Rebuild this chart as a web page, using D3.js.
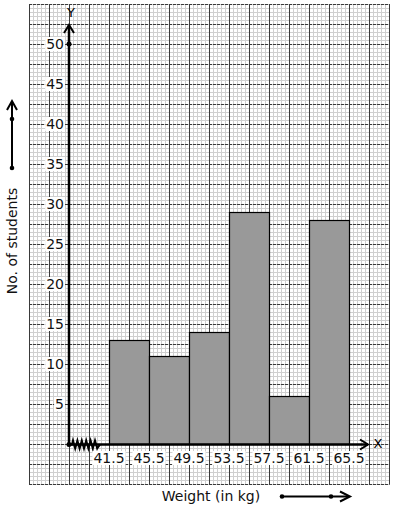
<!DOCTYPE html>
<html><head><meta charset="utf-8">
<script src="https://cdn.jsdelivr.net/npm/d3@7"></script>
<style>body{margin:0;background:#fff}svg{display:block}text{font-family:"DejaVu Sans",sans-serif}</style>
</head><body>
<script>
const classes = ["41.5-45.5","45.5-49.5","49.5-53.5","53.5-57.5","57.5-61.5","61.5-65.5"];
const lowerBounds = [41.5,45.5,49.5,53.5,57.5,61.5];
const upperBounds = [45.5,49.5,53.5,57.5,61.5,65.5];
const students = [13,11,14,29,6,28];
const xTicks = [41.5,45.5,49.5,53.5,57.5,61.5,65.5];
const yTicks = [5,10,15,20,25,30,35,40,45,50];

const W=394,H=510;
const svg=d3.select("body").append("svg").attr("width",W).attr("height",H);

const x=d3.scaleLinear().domain([41.5,65.5]).range([109,349]);
const y=d3.scaleLinear().domain([0,50]).range([444,44]);
const ox=69, oy=444;

// graph paper
const gx0=29,gx1=389,gy0=4,gy1=484;
const grid=svg.append("g");
const minorX=d3.range(gx0,gx1+1,4), minorY=d3.range(gy0,gy1+1,4);
grid.selectAll(".mx").data(minorX).enter().append("line")
 .attr("x1",d=>d+0.5).attr("x2",d=>d+0.5).attr("y1",gy0).attr("y2",gy1)
 .attr("stroke","#cfcfcf").attr("stroke-width",1);
grid.selectAll(".my").data(minorY).enter().append("line")
 .attr("y1",d=>d+0.5).attr("y2",d=>d+0.5).attr("x1",gx0).attr("x2",gx1)
 .attr("stroke","#cfcfcf").attr("stroke-width",1);
grid.selectAll(".MX").data(d3.range(gx0,gx1+1,20)).enter().append("line")
 .attr("x1",d=>d+0.5).attr("x2",d=>d+0.5).attr("y1",gy0).attr("y2",gy1+0.5)
 .attr("stroke","#3a3a3a").attr("stroke-width",1);
grid.selectAll(".MY").data(d3.range(gy0,gy1+1,20)).enter().append("line")
 .attr("y1",d=>d+0.5).attr("y2",d=>d+0.5).attr("x1",gx0).attr("x2",gx1+0.5)
 .attr("stroke","#3a3a3a").attr("stroke-width",1).attr("stroke-dasharray","3,1");

// bars
svg.append("g").selectAll("rect").data(students).enter().append("rect")
 .attr("x",(d,i)=>x(lowerBounds[i])+0.5).attr("y",d=>y(d)+0.5)
 .attr("width",(d,i)=>x(upperBounds[i])-x(lowerBounds[i]))
 .attr("height",d=>y(0)-y(d))
 .attr("fill","#999999").attr("stroke","#000").attr("stroke-width",1.2);

// axes
const ax=svg.append("g").attr("stroke","#000").attr("fill","none");
ax.append("line").attr("x1",ox).attr("x2",ox).attr("y1",oy).attr("y2",25).attr("stroke-width",2.5);
ax.append("path").attr("d",`M${ox-5},${33} L${ox},${25} L${ox+5},${33}`).attr("stroke-width",2);
ax.append("line").attr("x1",ox).attr("x2",368).attr("y1",oy+0.5).attr("y2",oy+0.5).attr("stroke-width",2.5);
ax.append("path").attr("d",`M${360},${oy-4.5} L${368},${oy+0.5} L${360},${oy+5.5}`).attr("stroke-width",2);
// kink
let kp=`M${ox},${oy+0.5} L72,${oy+0.5}`;
const kx=d3.range(73,99,2.2);
kx.forEach((v,i)=>{kp+=` L${v},${oy+0.5+(i%2?4:-4)}`;});
kp+=` L${100},${oy+0.5}`;
ax.append("path").attr("d",kp).attr("stroke-width",2);
svg.append("circle").attr("cx",ox).attr("cy",oy+0.5).attr("r",2.5).attr("fill","#000");
svg.append("circle").attr("cx",ox).attr("cy",y(50)).attr("r",2.5).attr("fill","#000");
svg.append("text").attr("x",ox+2).attr("y",17).attr("text-anchor","middle").attr("font-size",13).text("Y");
svg.append("text").attr("x",378).attr("y",448).attr("text-anchor","middle").attr("font-size",13).text("X");

function labelWithBg(g,tx,ty,anchor,txt){
  const t=g.append("text").attr("x",tx).attr("y",ty).attr("text-anchor",anchor).attr("font-size",14).attr("fill","#111").text(txt);
  const b=t.node().getBBox();
  g.insert("rect","text").attr("x",b.x-1).attr("y",b.y+1).attr("width",b.width+2).attr("height",b.height-2).attr("fill","#fff");
}
const yl=svg.append("g");
yTicks.forEach(v=>labelWithBg(yl.append("g"),64,y(v)+5,"end",v));
const xl=svg.append("g");
xTicks.forEach(v=>labelWithBg(xl.append("g"),x(v),463,"middle",v));

svg.append("text").attr("transform","translate(17,241) rotate(-90)").attr("text-anchor","middle")
 .attr("font-size",14).attr("fill","#111").text("No. of students");
svg.append("text").attr("x",211).attr("y",501).attr("text-anchor","middle").attr("font-size",14).attr("fill","#111").text("Weight (in kg)");

const da=svg.append("g").attr("stroke","#000").attr("fill","none").attr("stroke-width",2);
da.append("line").attr("x1",12).attr("x2",12).attr("y1",168).attr("y2",101);
da.append("path").attr("d","M7,110 L12,101 L17,110");
svg.append("circle").attr("cx",12).attr("cy",119).attr("r",2.3);
svg.append("circle").attr("cx",12).attr("cy",168).attr("r",2.3);
da.append("line").attr("x1",282).attr("x2",349).attr("y1",496.5).attr("y2",496.5);
da.append("path").attr("d","M340,491.5 L350,496.5 L340,501.5");
svg.append("circle").attr("cx",282).attr("cy",496.5).attr("r",2.3);
svg.append("circle").attr("cx",331).attr("cy",496.5).attr("r",2.3);
</script>
</body></html>
